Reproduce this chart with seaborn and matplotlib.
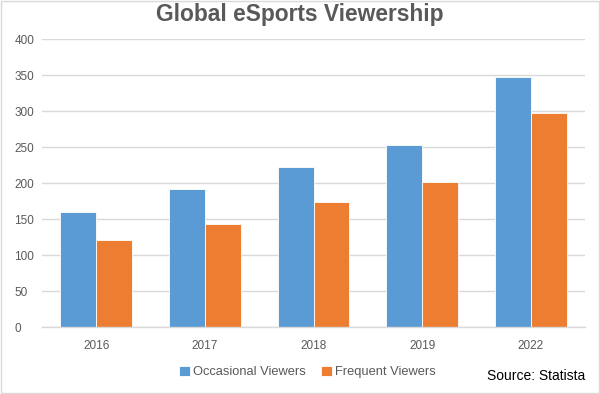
import matplotlib
matplotlib.use("Agg")
import matplotlib.pyplot as plt
import seaborn as sns
import pandas as pd
from matplotlib.patches import Rectangle

years = ["2016", "2017", "2018", "2019", "2022"]
occasional = [160, 191, 222, 253, 347]
frequent = [121, 143, 173, 201, 297]
series_names = ["Occasional Viewers", "Frequent Viewers"]
yticks = [0, 50, 100, 150, 200, 250, 300, 350, 400]

df = pd.DataFrame({
    "Year": years * 2,
    "Value": occasional + frequent,
    "Series": [series_names[0]] * len(years) + [series_names[1]] * len(years),
})

sns.set_theme(style="white")
plt.rcParams['font.family'] = ['Liberation Sans', 'DejaVu Sans']

fig = plt.figure(figsize=(6, 3.94), dpi=100)
ax = fig.add_axes([0.07, 0.17, 0.905, 0.731])

sns.barplot(data=df, x="Year", y="Value", hue="Series",
            palette=["#5B9BD5", "#ED7D31"], width=0.66, ax=ax,
            edgecolor="#FFFFFF", linewidth=0.6, saturation=1)

ax.set_ylim(0, 400)
ax.set_yticks(yticks)
ax.set_xlim(-0.5, len(years) - 0.5)
ax.yaxis.grid(True, color="#D9D9D9", linewidth=1)
ax.set_axisbelow(True)
for s in ["top", "right", "left"]:
    ax.spines[s].set_visible(False)
ax.spines["bottom"].set_color("#D9D9D9")
ax.spines["bottom"].set_linewidth(1)
ax.set_xlabel("")
ax.set_ylabel("")
ax.tick_params(axis="both", length=0, labelsize=8.5, labelcolor="#595959")
ax.tick_params(axis="x", pad=9)
for lbl in ax.get_yticklabels():
    lbl.set_horizontalalignment("left")
ax.yaxis.set_tick_params(pad=20)

leg = ax.legend(loc="center", bbox_to_anchor=(307.5/600, 1 - 372/394),
                bbox_transform=fig.transFigure, ncol=2, frameon=False,
                fontsize=9.3, handlelength=0.85, handleheight=0.85,
                handletextpad=0.2, columnspacing=1.2)
for t in leg.get_texts():
    t.set_color("#595959")

fig.text(0.5, 1 - 15/394, "Global eSports Viewership", ha="center", va="center",
         fontsize=16.4, fontweight="bold", color="#595959")
fig.text(585/600, 1 - 376/394, "Source: Statista", ha="right", va="center",
         fontsize=10, color="#000000")

fig.patches.append(Rectangle((0.002, 0.003), 0.996, 0.994, transform=fig.transFigure,
                             fill=False, edgecolor="#D9D9D9", linewidth=1))

fig.savefig("out.png", dpi=100)
